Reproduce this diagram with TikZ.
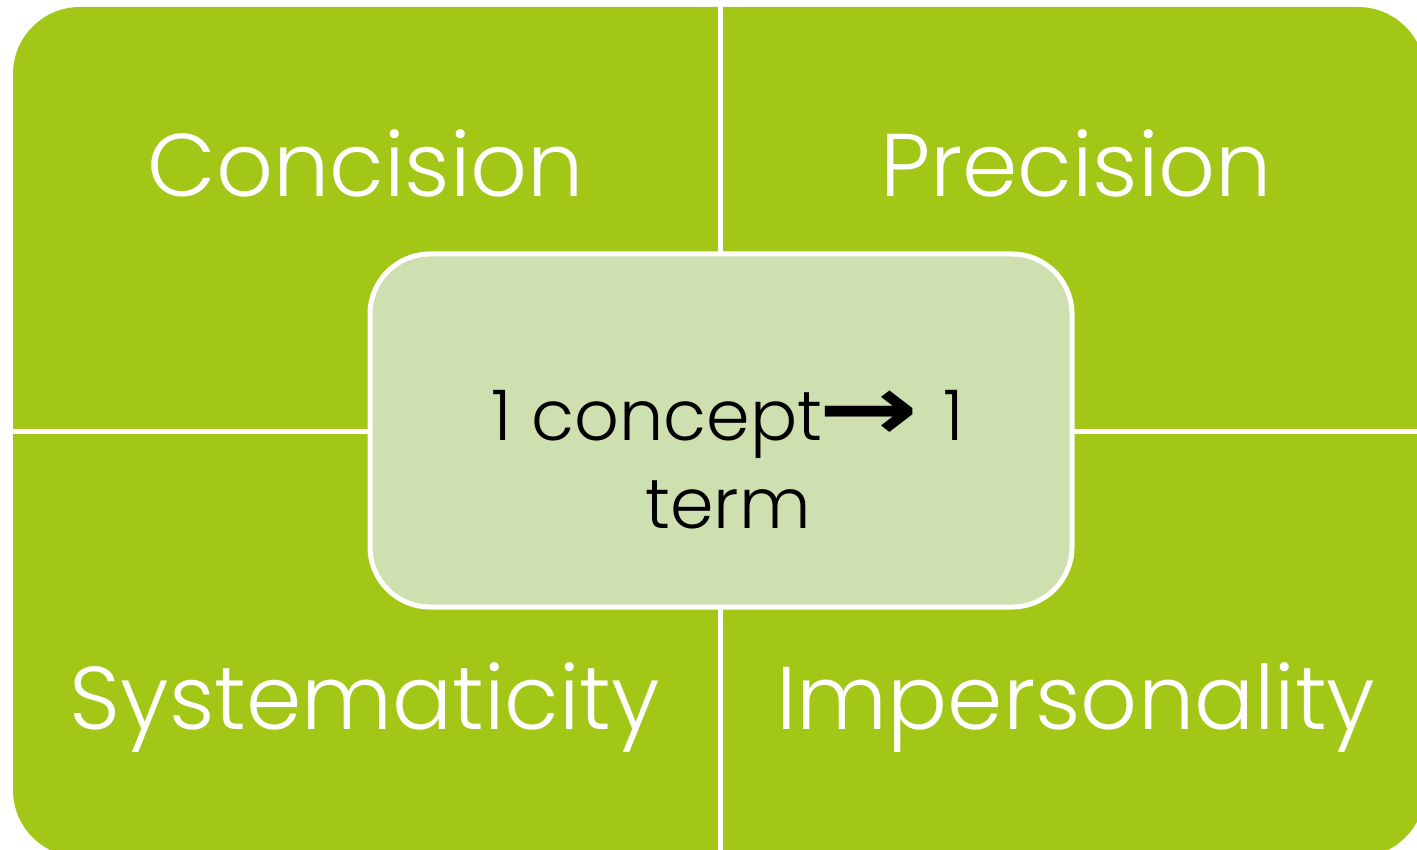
\documentclass[tikz,border=0pt]{standalone}
\usepackage{fontspec}
\newfontfamily\quadfont{Poppins Light}
\newfontfamily\arrowfont{DejaVu Sans}
\definecolor{leaf}{HTML}{A3C716}
\definecolor{pale}{HTML}{CFE0B0}
\begin{document}
\begin{tikzpicture}[x=1pt,y=-1pt,
  quadtext/.style={text=white,anchor=base,inner sep=0pt,font=\quadfont\fontsize{89}{100}\selectfont},
  divider/.style={draw=white,line width=5pt},
  centerbox/.style={fill=pale,draw=white,line width=5pt,rounded corners=60pt},
  centertext/.style={text=black,align=center,inner sep=0pt,font=\quadfont\fontsize{70}{88}\selectfont}]
\useasboundingbox (0,0) rectangle (1417,850);
\fill[leaf,rounded corners=67pt] (13,7) rectangle (1425,857);
\draw[divider] (720,0) -- (720,860);
\draw[divider] (0,431) -- (1430,431);
\draw[centerbox] (370,254) rectangle (1072,607);
\node[quadtext] (conc) at (366,197) {Concision};
\node[quadtext] (prec) at (1076,197) {Precision};
\node[quadtext] (syst) at (365,729) {Systematicity};
\node[quadtext] (impe) at (1076,729) {Impersonality};
\node[centertext] (core) at (728,460) {1 concept\hspace{-4pt}{\arrowfont\bfseries\fontsize{92}{88}\selectfont\scalebox{1.3}[1]{→}}\hspace{6pt} 1\\term};
\end{tikzpicture}
\end{document}
